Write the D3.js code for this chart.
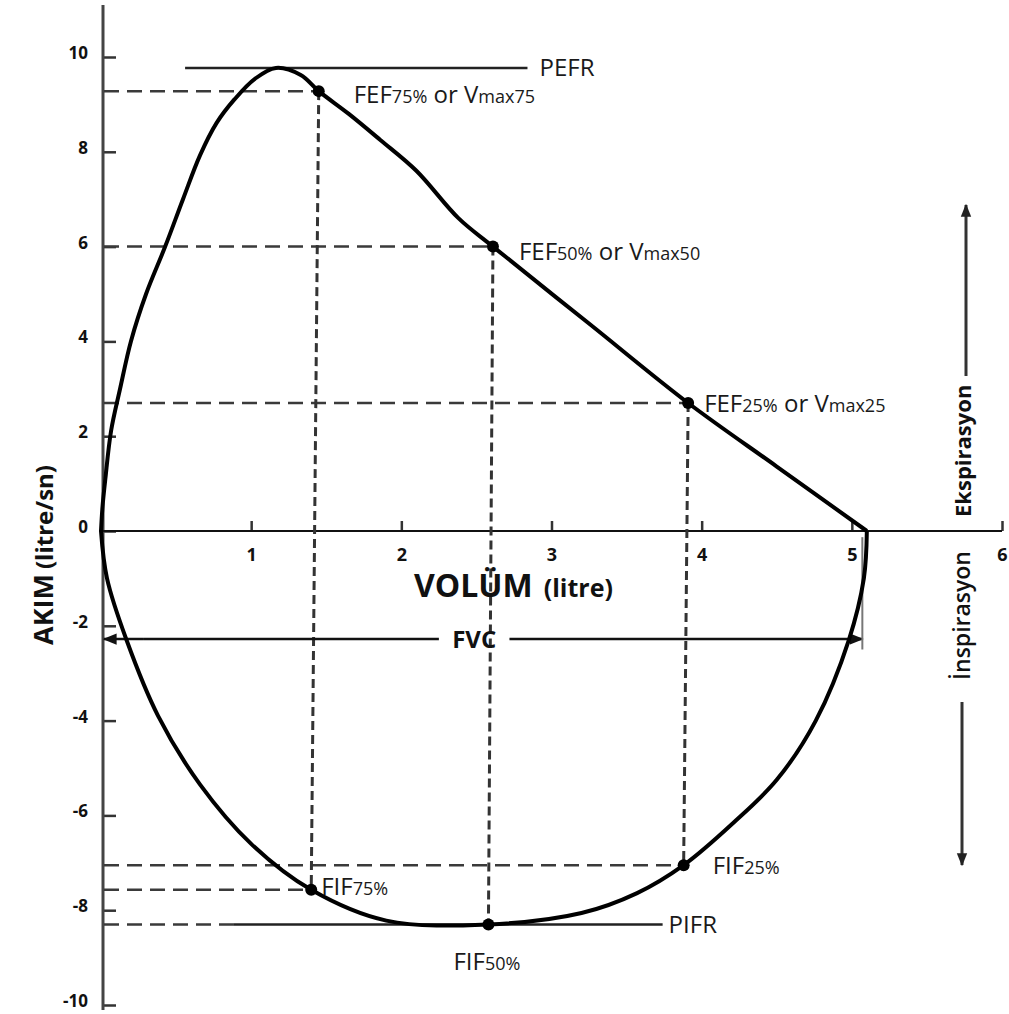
<!DOCTYPE html>
<html>
<head>
<meta charset="utf-8">
<script src="https://cdn.jsdelivr.net/npm/d3@7"></script>
<style>
  html, body { margin: 0; padding: 0; background: #fff; }
  svg { display: block; font-family: "Open Sans", "Noto Sans", sans-serif; }
</style>
</head>
<body>
<svg id="chart" width="1009" height="1014"></svg>
<script>
// Flow-volume loop (spirometry): volume in litres, flow in litres per second.

// Expiratory limb (flow > 0)
const expVolume = [0, 0.01, 0.029, 0.067, 0.127, 0.20, 0.30, 0.426, 0.546, 0.66, 0.77, 0.89, 1.025, 1.165, 1.33, 1.45, 1.65, 1.86, 2.1, 2.38, 2.61, 3.26, 3.91, 4.5, 5.10];
const expFlow   = [0, 0.51, 1.10, 2.11, 3.0, 4.01, 5.0, 5.99, 7.0, 7.93, 8.61, 9.11, 9.54, 9.77, 9.62, 9.28, 8.8, 8.25, 7.6, 6.6, 6.0, 4.35, 2.7, 1.36, 0];

// Inspiratory limb (flow < 0)
const inspVolume = [0, 0.04, 0.17, 0.38, 0.66, 1.0, 1.40, 1.9, 2.58, 3.2, 3.57, 3.88, 4.21, 4.5, 4.76, 4.98, 5.08, 5.10];
const inspFlow   = [0, -1.0, -2.3, -3.9, -5.35, -6.6, -7.57, -8.22, -8.3, -8.06, -7.64, -7.05, -6.16, -5.25, -4.0, -2.3, -1.0, 0];

// Marked flow points
const markerMain   = ["FEF", "FEF", "FEF", "FIF", "FIF", "FIF"];
const markerSub    = ["75%", "50%", "25%", "75%", "50%", "25%"];
const markerAlt    = ["max75", "max50", "max25", "", "", ""];
const markerVolume = [1.45, 2.61, 3.91, 1.40, 2.58, 3.88];
const markerFlow   = [9.28, 6.0, 2.7, -7.57, -8.3, -7.05];

// Peak flows and forced vital capacity
const pefrFlow = 9.77, pefrFrom = 0.56, pefrTo = 2.84;
const pifrFlow = -8.3, pifrFrom = 0.88, pifrTo = 3.74;
const fvcVolume = 5.07, fvcFlow = -2.28;

const xTicks = [1, 2, 3, 4, 5, 6];
const yTicks = [10, 8, 6, 4, 2, 0, -2, -4, -6, -8, -10];

const svg = d3.select("#chart");
const x = d3.scaleLinear().domain([0, 6]).range([101, 1002]);
const y = d3.scaleLinear().domain([-10, 10]).range([1005, 57]);
const plain = d => String(d);

// arrowheads
const defs = svg.append("defs");
function arrow(id, color, size) {
  defs.append("marker")
    .attr("id", id).attr("viewBox", "0 0 10 10")
    .attr("refX", 9).attr("refY", 5)
    .attr("markerWidth", size).attr("markerHeight", size)
    .attr("markerUnits", "userSpaceOnUse")
    .attr("orient", "auto-start-reverse")
    .append("path").attr("d", "M0,1 L10,5 L0,9 Z").attr("fill", color);
}
arrow("arrowFvc", "#111", 14);
arrow("arrowSide", "#222", 13);

// ---- axes ----
const yAxis = d3.axisLeft(y).tickValues(yTicks).tickFormat(plain)
  .tickSizeInner(-13).tickSizeOuter(0).tickPadding(15);
const gy = svg.append("g").attr("transform", `translate(${x(0) + 2},0)`).call(yAxis);
gy.select(".domain").remove();
gy.selectAll(".tick line").attr("stroke", "#333").attr("stroke-width", 2.5);
gy.selectAll(".tick text")
  .attr("y", -4)
  .attr("fill", "#111")
  .style("font-size", "17px").style("font-weight", "700")
  .style("font-family", "'Open Sans', sans-serif");

const xAxis = d3.axisBottom(x).tickValues(xTicks).tickFormat(plain)
  .tickSizeInner(-10).tickSizeOuter(0).tickPadding(17);
const gx = svg.append("g").attr("transform", `translate(0,${y(0)})`).call(xAxis);
gx.select(".domain").remove();
gx.selectAll(".tick line").attr("stroke", "#333").attr("stroke-width", 2.5);
gx.selectAll(".tick text")
  .attr("fill", "#111")
  .style("font-size", "18px").style("font-weight", "700")
  .style("font-family", "'Open Sans', sans-serif");

// axis lines
svg.append("line")
  .attr("x1", x(0) + 2).attr("x2", x(0) + 2).attr("y1", 5).attr("y2", 1010)
  .attr("stroke", "#444").attr("stroke-width", 3);
svg.append("line")
  .attr("x1", x(0) - 2).attr("x2", x(6)).attr("y1", y(0)).attr("y2", y(0))
  .attr("stroke", "#111").attr("stroke-width", 2);

// ---- reference lines ----
const refs = svg.append("g");
// horizontal dashes from the flow axis to each marked point
markerVolume.forEach((v, i) => {
  if (i === 4) return;
  refs.append("line")
    .attr("x1", x(0) + 3).attr("x2", x(v)).attr("y1", y(markerFlow[i])).attr("y2", y(markerFlow[i]))
    .attr("stroke", "#3a3a3a").attr("stroke-width", 2.5).attr("stroke-dasharray", "15,8");
});
// PIFR: dashed up to the curve, then solid
refs.append("line")
  .attr("x1", x(0) + 3).attr("x2", x(pifrFrom)).attr("y1", y(pifrFlow)).attr("y2", y(pifrFlow))
  .attr("stroke", "#3a3a3a").attr("stroke-width", 2.5).attr("stroke-dasharray", "15,8");
refs.append("line")
  .attr("x1", x(pifrFrom)).attr("x2", x(pifrTo)).attr("y1", y(pifrFlow)).attr("y2", y(pifrFlow))
  .attr("stroke", "#222").attr("stroke-width", 2.5);
// PEFR solid line
refs.append("line")
  .attr("x1", x(pefrFrom)).attr("x2", x(pefrTo)).attr("y1", y(pefrFlow)).attr("y2", y(pefrFlow))
  .attr("stroke", "#222").attr("stroke-width", 2.5);
// vertical dashes linking expiratory and inspiratory points at the same volume fraction
[[0, 3], [1, 4], [2, 5]].forEach(([a, b]) => {
  refs.append("line")
    .attr("x1", x(markerVolume[a])).attr("x2", x(markerVolume[b]))
    .attr("y1", y(markerFlow[a])).attr("y2", y(markerFlow[b]))
    .attr("stroke", "#333").attr("stroke-width", 3).attr("stroke-dasharray", "9,5");
});

// FVC span
const fvcY = y(fvcFlow);
refs.append("line")
  .attr("x1", x(0.28)).attr("x2", x(0) + 3).attr("y1", fvcY).attr("y2", fvcY)
  .attr("stroke", "#111").attr("stroke-width", 2.5).attr("marker-end", "url(#arrowFvc)");
refs.append("line")
  .attr("x1", x(0.28)).attr("x2", x(2.25)).attr("y1", fvcY).attr("y2", fvcY)
  .attr("stroke", "#111").attr("stroke-width", 2.5);
refs.append("line")
  .attr("x1", x(2.72)).attr("x2", x(fvcVolume)).attr("y1", fvcY).attr("y2", fvcY)
  .attr("stroke", "#111").attr("stroke-width", 2.5).attr("marker-end", "url(#arrowFvc)");
refs.append("line")
  .attr("x1", x(fvcVolume)).attr("x2", x(fvcVolume)).attr("y1", y(-0.13)).attr("y2", y(-2.5))
  .attr("stroke", "#777").attr("stroke-width", 2);
svg.append("text")
  .attr("x", (x(2.25) + x(2.72)) / 2).attr("y", fvcY + 9)
  .attr("text-anchor", "middle")
  .style("font-size", "24px").style("font-weight", "700").attr("fill", "#111")
  .text("FVC");

// ---- loop ----
const line = d3.line().x(d => x(d[0])).y(d => y(d[1])).curve(d3.curveCatmullRom.alpha(0.5));
const expPts = expVolume.map((v, i) => [v, expFlow[i]]);
const inspPts = inspVolume.map((v, i) => [v, inspFlow[i]]);
svg.append("path").attr("d", line(expPts))
  .attr("fill", "none").attr("stroke", "#000").attr("stroke-width", 4).attr("stroke-linejoin", "round");
svg.append("path").attr("d", line(inspPts))
  .attr("fill", "none").attr("stroke", "#000").attr("stroke-width", 4).attr("stroke-linejoin", "round");

// marker dots
svg.append("g").selectAll("circle")
  .data(markerVolume.map((v, i) => [v, markerFlow[i]]))
  .join("circle")
  .attr("cx", d => x(d[0])).attr("cy", d => y(d[1])).attr("r", 6).attr("fill", "#000");

// ---- point labels ----
const labelShift = [[35, 12], [26, 13], [16, 9], [10, 5], [-35, 46], [29, 9]];
const labels = svg.append("g").attr("fill", "#1a1a1a");
markerVolume.forEach((v, i) => {
  const t = labels.append("text")
    .attr("x", x(v) + labelShift[i][0]).attr("y", y(markerFlow[i]) + labelShift[i][1])
    .style("font-size", "24px");
  t.append("tspan").text(markerMain[i]);
  t.append("tspan").style("font-size", "18px").text(markerSub[i]);
  if (markerAlt[i]) {
    t.append("tspan").text(" or V");
    t.append("tspan").style("font-size", "18px").text(markerAlt[i]);
  }
});
labels.append("text")
  .attr("x", x(pefrTo) + 12).attr("y", y(pefrFlow) + 8)
  .style("font-size", "24px").text("PEFR");
labels.append("text")
  .attr("x", x(pifrTo) + 6).attr("y", y(pifrFlow) + 9)
  .style("font-size", "24px").text("PIFR");

// ---- axis titles ----
const xt = svg.append("text").attr("x", 414).attr("y", 597)
  .attr("fill", "#111").style("font-weight", "700");
xt.append("tspan").style("font-size", "32px").text("VOLÜM");
xt.append("tspan").style("font-size", "25px").attr("dx", 11).text("(litre)");

const yt = svg.append("text").attr("transform", "translate(53,645) rotate(-90)")
  .attr("fill", "#111").style("font-weight", "700");
yt.append("tspan").style("font-size", "27px").text("AKIM");
yt.append("tspan").style("font-size", "24px").attr("dx", 5).text("(litre/sn)");

// ---- breathing direction ----
svg.append("text").attr("transform", "translate(971,517) rotate(-90)")
  .attr("fill", "#111").style("font-weight", "700").style("font-size", "22px")
  .text("Ekspirasyon");
svg.append("text").attr("transform", "translate(970,680) rotate(-90)")
  .attr("fill", "#111").style("font-weight", "600").style("font-size", "23px")
  .text("İnspirasyon");
svg.append("line").attr("x1", 966).attr("x2", 966).attr("y1", 376).attr("y2", 205)
  .attr("stroke", "#333").attr("stroke-width", 3).attr("marker-end", "url(#arrowSide)");
svg.append("line").attr("x1", 962).attr("x2", 962).attr("y1", 702).attr("y2", 865)
  .attr("stroke", "#333").attr("stroke-width", 3).attr("marker-end", "url(#arrowSide)");
</script>
</body>
</html>
